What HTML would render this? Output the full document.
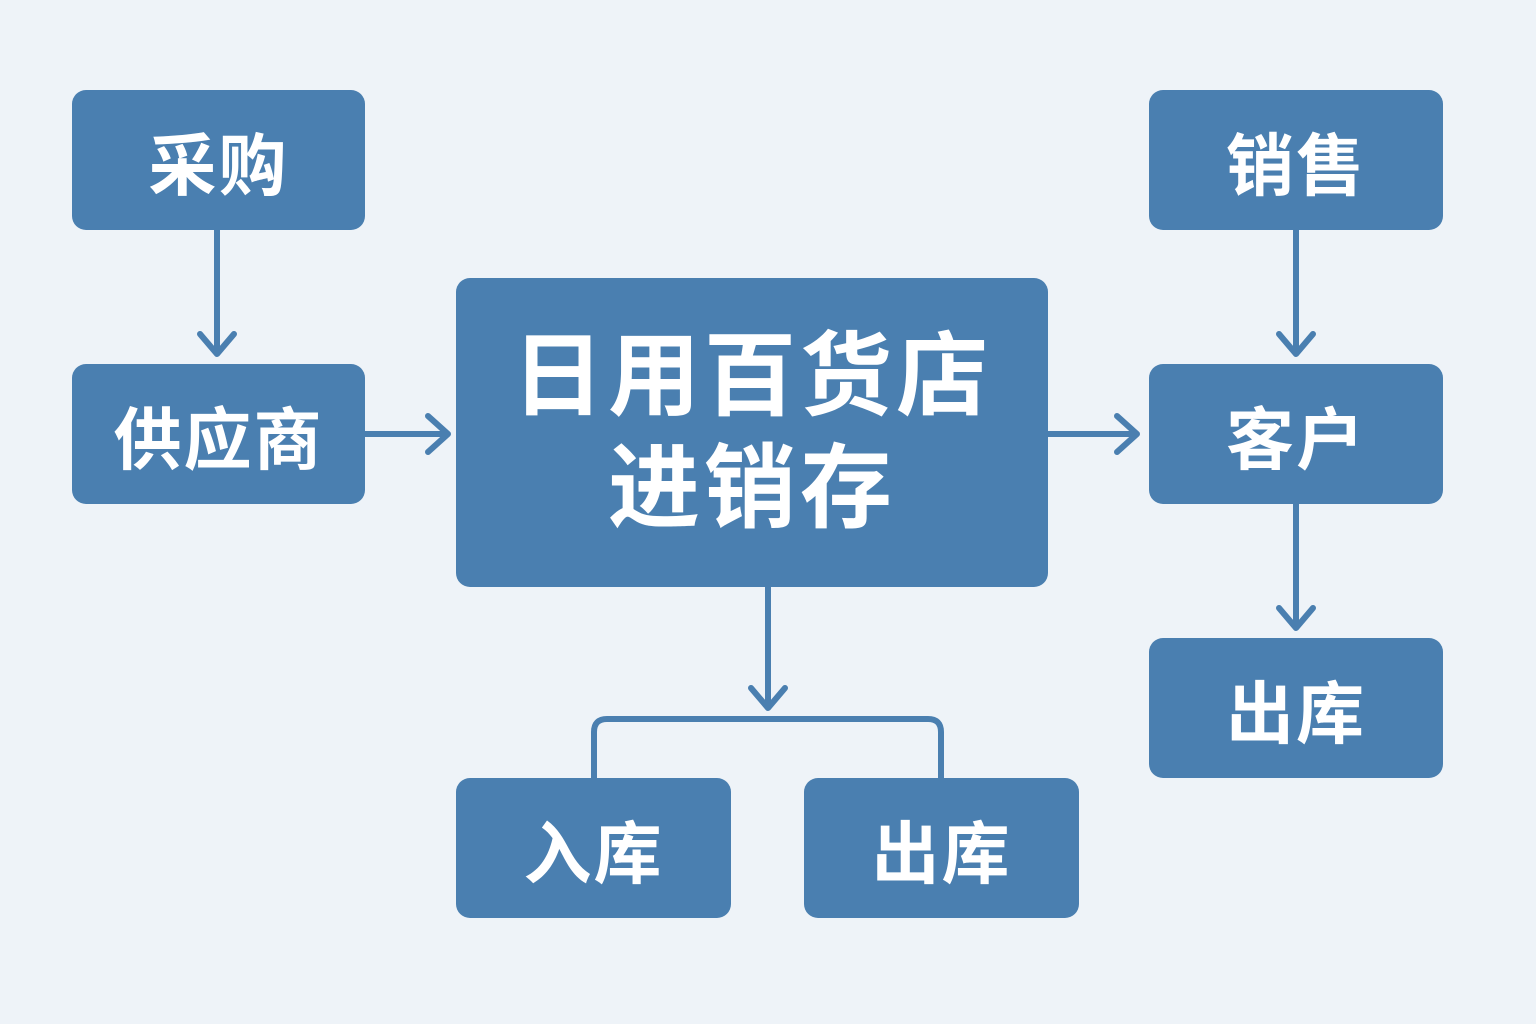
<!DOCTYPE html>
<html><head><meta charset="utf-8"><style>
body{margin:0;width:1536px;height:1024px;background:#eef3f8;position:relative;overflow:hidden;font-family:"Liberation Sans","Noto Sans CJK SC",sans-serif;}
.b{position:absolute;background:#4a7fb0;border-radius:14px;color:#fff;font-weight:bold;display:flex;align-items:center;justify-content:center;text-align:center;font-size:68px;letter-spacing:2px;}
svg{position:absolute;left:0;top:0;}
</style></head><body>
<svg width="1536" height="1024" fill="none" stroke="#4a7fb0" stroke-width="6" stroke-linecap="round" stroke-linejoin="round">
<path d="M217 230V352M200 334L217 354L234 334"/>
<path d="M365 434H446M428 416L448 434L428 452"/>
<path d="M1048 434H1135M1117 416L1137 434L1117 452"/>
<path d="M1296 230V352M1279 334L1296 354L1313 334"/>
<path d="M1296 504V626M1279 608L1296 628L1313 608"/>
<path d="M768 587V707M751 688L768 708L785 688"/>
<path d="M594 778V732Q594 719 607 719H928Q941 719 941 732V778"/>
</svg>
<div class="b" style="left:72px;top:90px;width:293px;height:140px">采购</div>
<div class="b" style="left:72px;top:364px;width:293px;height:140px">供应商</div>
<div class="b" style="left:456px;top:278px;width:592px;height:309px;font-size:92px;line-height:112px;letter-spacing:4px">日用百货店<br>进销存</div>
<div class="b" style="left:1149px;top:90px;width:294px;height:140px">销售</div>
<div class="b" style="left:1149px;top:364px;width:294px;height:140px">客户</div>
<div class="b" style="left:1149px;top:638px;width:294px;height:140px">出库</div>
<div class="b" style="left:456px;top:778px;width:275px;height:140px">入库</div>
<div class="b" style="left:804px;top:778px;width:275px;height:140px">出库</div>
</body></html>
